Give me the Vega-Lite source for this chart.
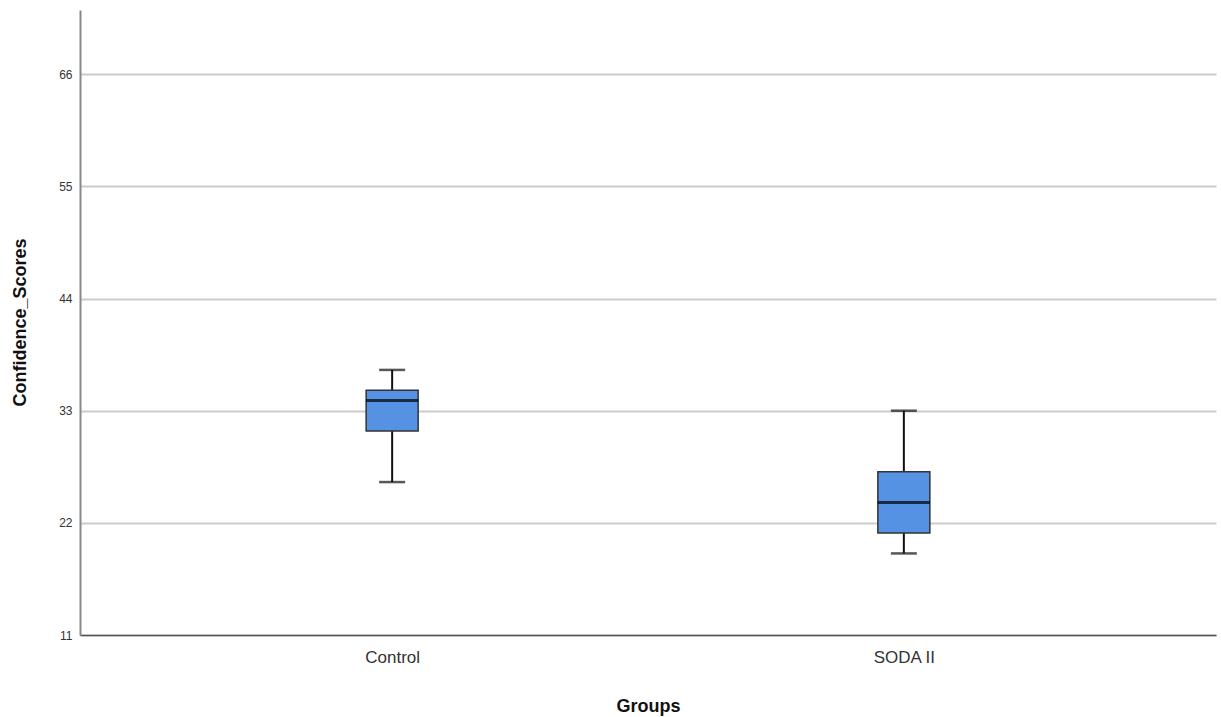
{
  "$schema": "https://vega.github.io/schema/vega-lite/v6.json",
  "width": 1136,
  "height": 625,
  "autosize": {"type": "none"},
  "padding": {"left": 80, "top": 10, "right": 5, "bottom": 82},
  "background": "white",
  "config": {
    "view": {"stroke": null},
    "font": "Liberation Sans"
  },
  "data": {
    "values": [
      {"group": "Control", "min": 26, "q1": 31, "median": 34, "q3": 35, "max": 37},
      {"group": "SODA II", "min": 19, "q1": 21, "median": 24, "q3": 27, "max": 33}
    ]
  },
  "encoding": {
    "x": {
      "field": "group",
      "type": "nominal",
      "scale": {"type": "point", "padding": 0.61},
      "axis": {
        "title": "Groups",
        "labelAngle": 0,
        "labelFontSize": 17,
        "labelColor": "#333333",
        "labelPadding": 14,
        "ticks": false,
        "domainColor": "#555555",
        "domainWidth": 1.5,
        "titleFontSize": 18,
        "titleFontWeight": "bold",
        "titleColor": "#111111",
        "titleY": 71,
        "titleBaseline": "middle",
        "grid": false
      }
    }
  },
  "layer": [
    {
      "mark": {"type": "rule", "color": "#111111", "strokeWidth": 2},
      "encoding": {
        "y": {
          "field": "min",
          "type": "quantitative",
          "scale": {"domain": [11, 72.3], "nice": false, "zero": false},
          "axis": {
            "title": "Confidence_Scores",
            "values": [11, 22, 33, 44, 55, 66],
            "labelFontSize": 12,
            "labelColor": "#333333",
            "labelPadding": 8,
            "ticks": false,
            "domainColor": "#888888",
            "domainWidth": 2,
            "gridColor": "#cccccc",
            "gridWidth": 2,
            "titleFontSize": 18,
            "titleFontWeight": "bold",
            "titleColor": "#111111",
            "titleX": -60,
            "titleY": 312,
            "titleAngle": -90,
            "titleAlign": "center",
            "titleBaseline": "middle"
          }
        },
        "y2": {"field": "max"}
      }
    },
    {
      "mark": {"type": "tick", "color": "#111111", "thickness": 2.5, "size": 26},
      "encoding": {"y": {"field": "min", "type": "quantitative"}}
    },
    {
      "mark": {"type": "tick", "color": "#111111", "thickness": 2.5, "size": 26},
      "encoding": {"y": {"field": "max", "type": "quantitative"}}
    },
    {
      "mark": {"type": "bar", "size": 52, "fill": "#5592e3", "stroke": "#333333", "strokeWidth": 1.5},
      "encoding": {
        "y": {"field": "q1", "type": "quantitative"},
        "y2": {"field": "q3"}
      }
    },
    {
      "mark": {"type": "tick", "color": "#000000", "thickness": 3, "size": 52},
      "encoding": {"y": {"field": "median", "type": "quantitative"}}
    }
  ]
}
